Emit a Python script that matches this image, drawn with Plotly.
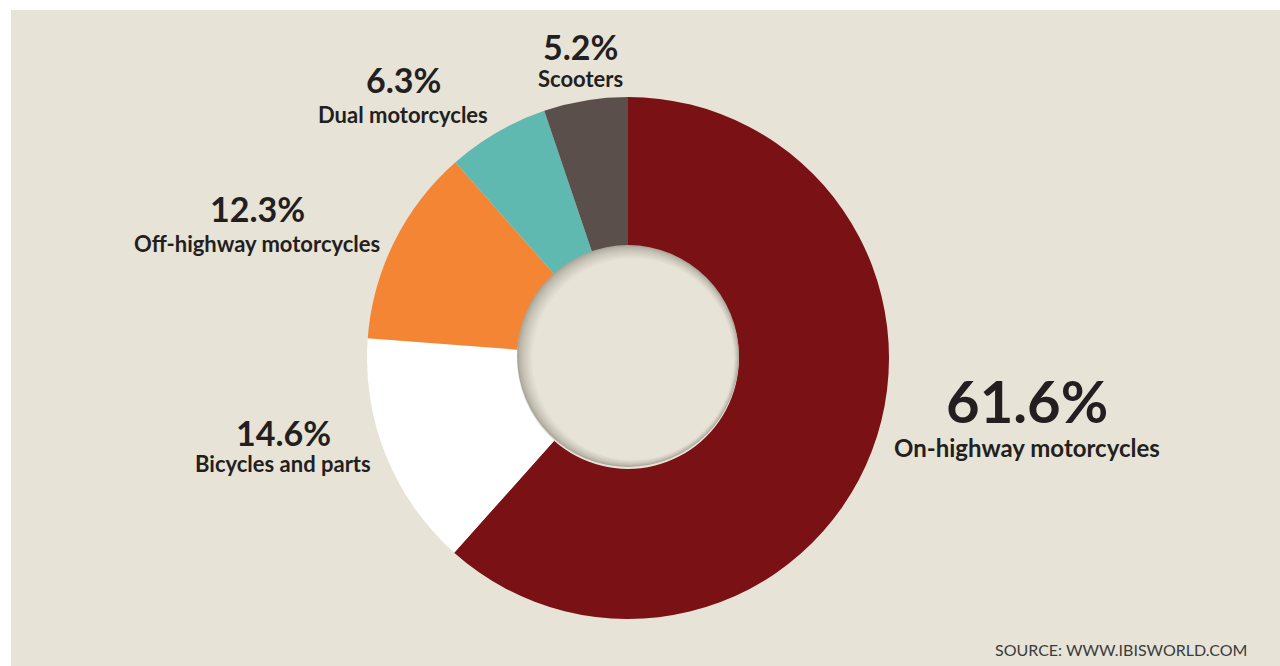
import plotly.graph_objects as go

# ---- data ----
categories = ["On-highway motorcycles", "Bicycles and parts", "Off-highway motorcycles",
              "Dual motorcycles", "Scooters"]
shares = [61.6, 14.6, 12.3, 6.3, 5.2]
colors = ["#7a1114", "#ffffff", "#f48535", "#5fb9b1", "#5b4f4b"]
source_text = "SOURCE: WWW.IBISWORLD.COM"

W, H = 1280, 666
BG = "#e7e3d6"
TXT = "#231f20"

def px(x):
    return x / W

def py(y):
    return 1 - y / H

cx, cy, R = 628, 358, 261
hole = 0.425

fig = go.Figure(go.Pie(
    labels=categories, values=shares, sort=False, direction="clockwise", rotation=0,
    hole=hole, marker=dict(colors=colors, line=dict(width=0)),
    textinfo="none", hoverinfo="label+percent", showlegend=False,
    domain=dict(x=[px(cx - R), px(cx + R)], y=[py(cy + R), py(cy - R)]),
))

shapes = []
# white frame at top and left (outside beige panel)
shapes.append(dict(type="rect", xref="paper", yref="paper", x0=0, x1=1, y0=py(10), y1=1,
                   fillcolor="white", line=dict(width=0), layer="below"))
shapes.append(dict(type="rect", xref="paper", yref="paper", x0=0, x1=px(11), y0=0, y1=1,
                   fillcolor="white", line=dict(width=0), layer="below"))

# inset shadow inside the hole
Rh = R * hole
N = 10
dark = (170, 166, 154)
light = (231, 227, 214)
for j in range(N + 1):
    t = j / N
    ox = 5 * t
    oy = 3 * t
    r = Rh - 10 * t
    c = tuple(int(dark[k] + (light[k] - dark[k]) * (t ** 0.7)) for k in range(3))
    shapes.append(dict(type="circle", xref="paper", yref="paper",
                       x0=px(cx + ox - r), x1=px(cx + ox + r),
                       y0=py(cy - 2 + oy + r), y1=py(cy - 2 + oy - r),
                       fillcolor="rgb(%d,%d,%d)" % c, line=dict(width=0), layer="above"))

# label positions (pixels): x centre, percent y, name y, percent size, name size
label_pos = [
    (1027, 400, 447, 58, 24),
    (283, 432, 463, 34, 22),
    (257, 209, 243, 34, 22),
    (403, 80, 115, 34, 22),
    (580, 46, 78, 34, 22),
]
annotations = []
for cat, val, (x, yp, yn, fp, fn) in zip(categories, shares, label_pos):
    annotations.append(dict(x=px(x), y=py(yp), xref="paper", yref="paper", showarrow=False,
                            text="<b>%.1f%%</b>" % val, xanchor="center", yanchor="middle",
                            font=dict(family="Lato", size=fp, color=TXT)))
    annotations.append(dict(x=px(x), y=py(yn), xref="paper", yref="paper", showarrow=False,
                            text=cat, xanchor="center", yanchor="middle",
                            font=dict(family="Lato", size=fn, color=TXT, weight=700)))
annotations.append(dict(x=px(1249), y=py(649), xref="paper", yref="paper", showarrow=False,
                        text=source_text, xanchor="right", yanchor="middle",
                        font=dict(family="Lato", size=16, color="#3b3b3b")))

fig.update_layout(width=W, height=H, margin=dict(l=0, r=0, t=0, b=0),
                  paper_bgcolor=BG, plot_bgcolor=BG, shapes=shapes, annotations=annotations)
fig.write_html("out.html", config={"displayModeBar": False},
               post_script="document.body.style.margin='0px';")
